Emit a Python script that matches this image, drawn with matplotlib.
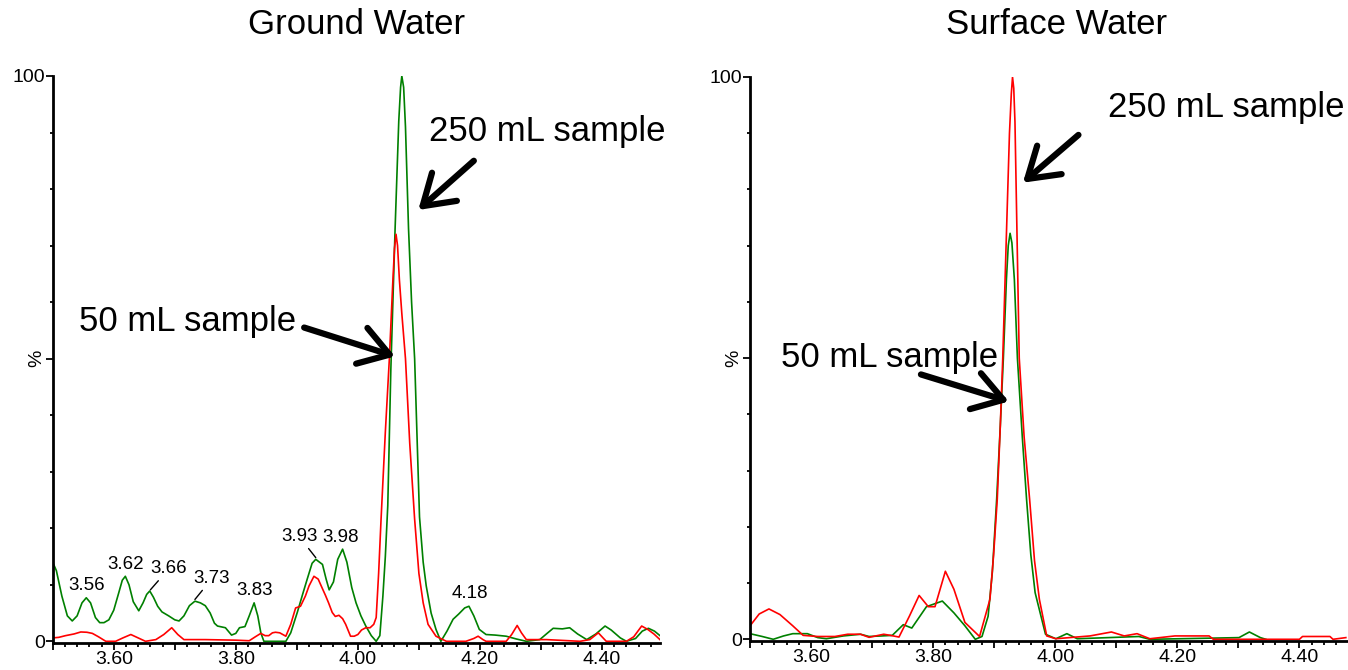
import numpy as np
import matplotlib
matplotlib.use("Agg")
from matplotlib import pyplot as plt
from matplotlib.ticker import MultipleLocator, FixedLocator

plt.rcParams['font.family'] = ['Liberation Sans', 'DejaVu Sans']

# ---- Ground water traces (retention time, %)
gw_250_x = [3.500, 3.506, 3.515, 3.524, 3.532, 3.540, 3.548, 3.555, 3.562, 3.570, 3.577, 3.584, 3.592,
            3.600, 3.608, 3.614, 3.619, 3.625, 3.632, 3.641, 3.648, 3.654, 3.659, 3.665, 3.672, 3.679,
            3.690, 3.700, 3.707, 3.715, 3.724, 3.733, 3.742, 3.750, 3.758, 3.765, 3.770, 3.783, 3.793,
            3.800, 3.806, 3.815, 3.822, 3.830, 3.836, 3.841, 3.846, 3.882, 3.890, 3.901, 3.910, 3.917,
            3.925, 3.931, 3.942, 3.948, 3.953, 3.960, 3.967, 3.975, 3.982, 3.990, 3.997, 4.005, 4.013,
            4.022, 4.030, 4.036, 4.041, 4.045, 4.049, 4.054, 4.061, 4.067, 4.070, 4.072, 4.075, 4.078,
            4.083, 4.088, 4.093, 4.101, 4.107, 4.112, 4.120, 4.128, 4.136, 4.146, 4.156, 4.165, 4.175,
            4.182, 4.190, 4.199, 4.210, 4.225, 4.243, 4.260, 4.276, 4.298, 4.310, 4.320, 4.335, 4.347,
            4.360, 4.375, 4.390, 4.405, 4.415, 4.430, 4.440, 4.455, 4.466, 4.476, 4.486, 4.495]
gw_250_y = [14.0, 12.5, 8.0, 4.5, 3.6, 4.5, 6.8, 7.7, 6.8, 4.2, 3.3, 3.3, 3.8,
            5.5, 8.5, 10.8, 11.5, 10.0, 7.0, 5.4, 6.8, 8.3, 8.9, 7.8, 6.2, 5.2,
            4.5, 3.8, 3.6, 4.5, 6.3, 7.1, 6.8, 6.3, 5.0, 3.2, 2.7, 2.4, 1.1,
            1.4, 2.4, 2.6, 4.5, 6.8, 4.5, 1.5, 0.0, 0.0, 1.5, 5.2, 8.5, 11.0,
            13.8, 14.5, 13.6, 11.0, 9.1, 10.5, 14.5, 16.3, 14.0, 9.5, 6.8, 4.5, 2.7,
            1.0, 0.0, 1.0, 8.0, 15.0, 24.0, 48.0, 73.0, 92.0, 98.0, 100.0, 98.0, 91.0,
            73.0, 60.0, 50.0, 22.0, 14.0, 9.8, 5.0, 2.1, 0.0, 1.8, 3.9, 4.8, 5.9,
            6.2, 4.5, 2.1, 1.2, 1.1, 0.9, 0.4, 0.0, 0.3, 1.4, 2.3, 2.2, 2.4,
            1.3, 0.3, 1.3, 2.7, 2.0, 0.6, 0.0, 0.5, 1.8, 2.3, 1.8, 1.0]

gw_50_x = [3.500, 3.510, 3.521, 3.535, 3.546, 3.556, 3.565, 3.575, 3.587, 3.603, 3.615, 3.628, 3.640,
           3.652, 3.669, 3.682, 3.695, 3.705, 3.715, 3.750, 3.800, 3.822, 3.832, 3.841, 3.848, 3.854,
           3.860, 3.865, 3.872, 3.882, 3.890, 3.898, 3.906, 3.914, 3.920, 3.928, 3.935, 3.942, 3.947,
           3.952, 3.958, 3.963, 3.969, 3.975, 3.980, 3.988, 3.994, 4.000, 4.006, 4.013, 4.020, 4.026,
           4.030, 4.034, 4.038, 4.045, 4.0516, 4.057, 4.060, 4.0625, 4.065, 4.068, 4.072, 4.078, 4.085,
           4.093, 4.100, 4.107, 4.115, 4.128, 4.145, 4.177, 4.190, 4.197, 4.205, 4.210, 4.243, 4.252,
           4.261, 4.268, 4.276, 4.309, 4.364, 4.380, 4.394, 4.400, 4.407, 4.440, 4.452, 4.465, 4.475,
           4.485, 4.495]
gw_50_y = [0.6, 0.7, 1.0, 1.3, 1.65, 1.6, 1.4, 0.8, 0.0, 0.0, 0.6, 1.2, 0.6,
           0.0, 0.3, 1.2, 2.4, 1.2, 0.3, 0.3, 0.2, 0.1, 0.8, 1.4, 1.0, 1.0,
           1.5, 1.6, 1.5, 0.9, 3.0, 5.9, 6.2, 8.0, 9.8, 11.5, 11.0, 9.3, 8.1,
           6.8, 5.1, 4.4, 4.6, 4.0, 3.0, 0.9, 0.9, 1.2, 2.0, 2.4, 2.4, 3.0,
           4.2, 12.0, 21.6, 37.0, 50.0, 63.0, 69.5, 72.0, 70.0, 64.0, 58.0, 50.0, 35.0,
           21.6, 12.0, 6.8, 3.0, 0.9, 0.0, 0.0, 0.5, 0.9, 0.3, 0.0, 0.0, 1.2,
           2.8, 1.5, 0.3, 0.3, 0.0, 0.3, 1.5, 0.8, 0.0, 0.0, 0.8, 2.7, 2.1,
           1.3, 0.3]

# ---- Surface water traces
sw_250_x = [3.500, 3.520, 3.538, 3.555, 3.570, 3.594, 3.611, 3.625, 3.653, 3.681, 3.695, 3.716, 3.733,
            3.751, 3.765, 3.789, 3.815, 3.834, 3.852, 3.869, 3.880, 3.890, 3.897, 3.904, 3.910, 3.915,
            3.920, 3.923, 3.926, 3.929, 3.933, 3.938, 3.946, 3.953, 3.960, 3.967, 3.984, 4.001, 4.019,
            4.036, 4.137, 4.155, 4.301, 4.318, 4.336, 4.345]
sw_250_y = [1.0, 0.5, 0.0, 0.6, 1.0, 1.0, 0.3, 0.1, 0.6, 0.9, 0.5, 0.6, 0.7,
            2.6, 2.0, 5.8, 6.8, 4.7, 2.4, 0.0, 0.5, 4.1, 12.0, 24.9, 38.0, 50.0,
            64.0, 70.0, 72.2, 70.5, 64.0, 50.0, 36.0, 24.9, 15.0, 8.3, 0.9, 0.1, 1.0,
            0.1, 0.5, 0.0, 0.3, 1.3, 0.3, 0.0]

sw_50_x = [3.500, 3.515, 3.531, 3.549, 3.570, 3.587, 3.611, 3.639, 3.660, 3.681, 3.695, 3.719, 3.730,
           3.744, 3.761, 3.777, 3.792, 3.803, 3.820, 3.834, 3.852, 3.876, 3.893, 3.899, 3.905, 3.910,
           3.914, 3.920, 3.925, 3.928, 3.930, 3.932, 3.934, 3.937, 3.941, 3.949, 3.958, 3.966, 3.974,
           3.986, 4.001, 4.057, 4.092, 4.113, 4.134, 4.155, 4.196, 4.252, 4.259, 4.400, 4.405, 4.450,
           4.455, 4.476]
sw_50_y = [2.4, 4.5, 5.4, 4.4, 2.4, 0.7, 0.5, 0.5, 0.9, 0.9, 0.35, 0.9, 0.7,
           0.4, 4.1, 7.8, 5.8, 5.8, 12.1, 8.9, 3.0, 0.5, 7.1, 15.0, 24.9, 38.0,
           50.0, 72.0, 90.0, 97.0, 100.0, 98.0, 92.0, 74.0, 50.0, 36.0, 24.9, 14.0, 7.1,
           0.6, 0.1, 0.6, 1.3, 0.6, 1.0, 0.1, 0.6, 0.6, 0.0, 0.0, 0.5, 0.5,
           0.0, 0.3]

# peak labels on ground water
peak_labels = ['3.56', '3.62', '3.66', '3.73', '3.83', '3.93', '3.98', '4.18']
peak_x = [3.555, 3.619, 3.660, 3.733, 3.830, 3.931, 3.975, 4.182]
peak_y = [7.7, 11.5, 9.1, 7.4, 6.8, 14.8, 16.3, 6.2]
label_x = [3.556, 3.620, 3.690, 3.761, 3.830, 3.904, 3.972, 4.183]
label_y = [9.9, 13.6, 12.8, 11.1, 9.0, 18.5, 18.3, 8.5]
leader = [False, False, True, True, False, True, False, False]

green = '#008000'
red = '#ff0000'

fig = plt.figure(figsize=(13.48, 6.7), dpi=100)
ax1 = fig.add_axes([0.0391, 0.0403, 0.4505, 0.8463])
ax2 = fig.add_axes([0.5564, 0.0433, 0.4429, 0.8418])


def style(ax, xmax):
    ax.set_xlim(3.5, xmax)
    ax.set_ylim(-0.3, 100)
    for s in ['top', 'right']:
        ax.spines[s].set_visible(False)
    for s in ['left', 'bottom']:
        ax.spines[s].set_linewidth(2)
        ax.spines[s].set_color('black')
    ax.xaxis.set_major_locator(MultipleLocator(0.1))
    ax.xaxis.set_minor_locator(MultipleLocator(0.02))
    ax.xaxis.set_major_formatter(lambda v, p: '%.2f' % v if round(v * 10) % 2 == 0 else '')
    ax.yaxis.set_major_locator(FixedLocator([0, 50, 100]))
    ax.yaxis.set_minor_locator(MultipleLocator(10))
    ax.set_yticklabels(['0', '', '100'])
    ax.tick_params(axis='x', which='major', length=5, width=1.3, labelsize=14, pad=0.5)
    ax.tick_params(axis='x', which='minor', length=3, width=1.3)
    ax.tick_params(axis='y', which='major', length=5, width=1.3, labelsize=14, pad=0.5)
    ax.tick_params(axis='y', which='minor', length=2.5, width=1.3)
    ax.text(-0.013, 50, '%', transform=ax.get_yaxis_transform(), rotation=90,
            ha='right', va='center', fontsize=14)


style(ax1, 4.495)
style(ax2, 4.478)

ax1.plot(gw_250_x, gw_250_y, color=green, lw=1.2)
ax1.plot(gw_50_x, gw_50_y, color=red, lw=1.2)
ax2.plot(sw_250_x, sw_250_y, color=green, lw=1.2)
ax2.plot(sw_50_x, sw_50_y, color=red, lw=1.2)

for lab, px, py, tx, ty, ld in zip(peak_labels, peak_x, peak_y, label_x, label_y, leader):
    if ld:
        ax1.annotate(lab, xy=(px, py), xytext=(tx, ty), ha='center', va='center', fontsize=13.5,
                     arrowprops=dict(arrowstyle='-', lw=1, color='black', shrinkA=0.5, shrinkB=0))
    else:
        ax1.text(tx, ty, lab, ha='center', va='center', fontsize=13.5)

arrow = dict(arrowstyle='->,head_length=0.7,head_width=0.45', lw=4.5, color='black',
             shrinkA=0, shrinkB=0, capstyle='round', joinstyle='round', mutation_scale=30)

ax1.text(4.117, 90.1, '250 mL sample', fontsize=25, ha='left', va='center')
ax1.annotate('', xy=(4.099, 76.3), xytext=(4.190, 85.0), arrowprops=arrow)
ax1.text(3.543, 56.5, '50 mL sample', fontsize=25, ha='left', va='center')
ax1.annotate('', xy=(4.061, 50.4), xytext=(3.912, 55.5), arrowprops=arrow)

ax2.text(4.086, 94.5, '250 mL sample', fontsize=25, ha='left', va='center')
ax2.annotate('', xy=(3.947, 81.2), xytext=(4.038, 89.7), arrowprops=arrow)
ax2.text(3.551, 50.1, '50 mL sample', fontsize=25, ha='left', va='center')
ax2.annotate('', xy=(3.924, 42.3), xytext=(3.780, 47.1), arrowprops=arrow)

fig.text(357 / 1348, 1 - 25 / 670, 'Ground Water', ha='center', va='center', fontsize=25)
fig.text(1057 / 1348, 1 - 25 / 670, 'Surface Water', ha='center', va='center', fontsize=25)

fig.savefig('out.png', dpi=100)
